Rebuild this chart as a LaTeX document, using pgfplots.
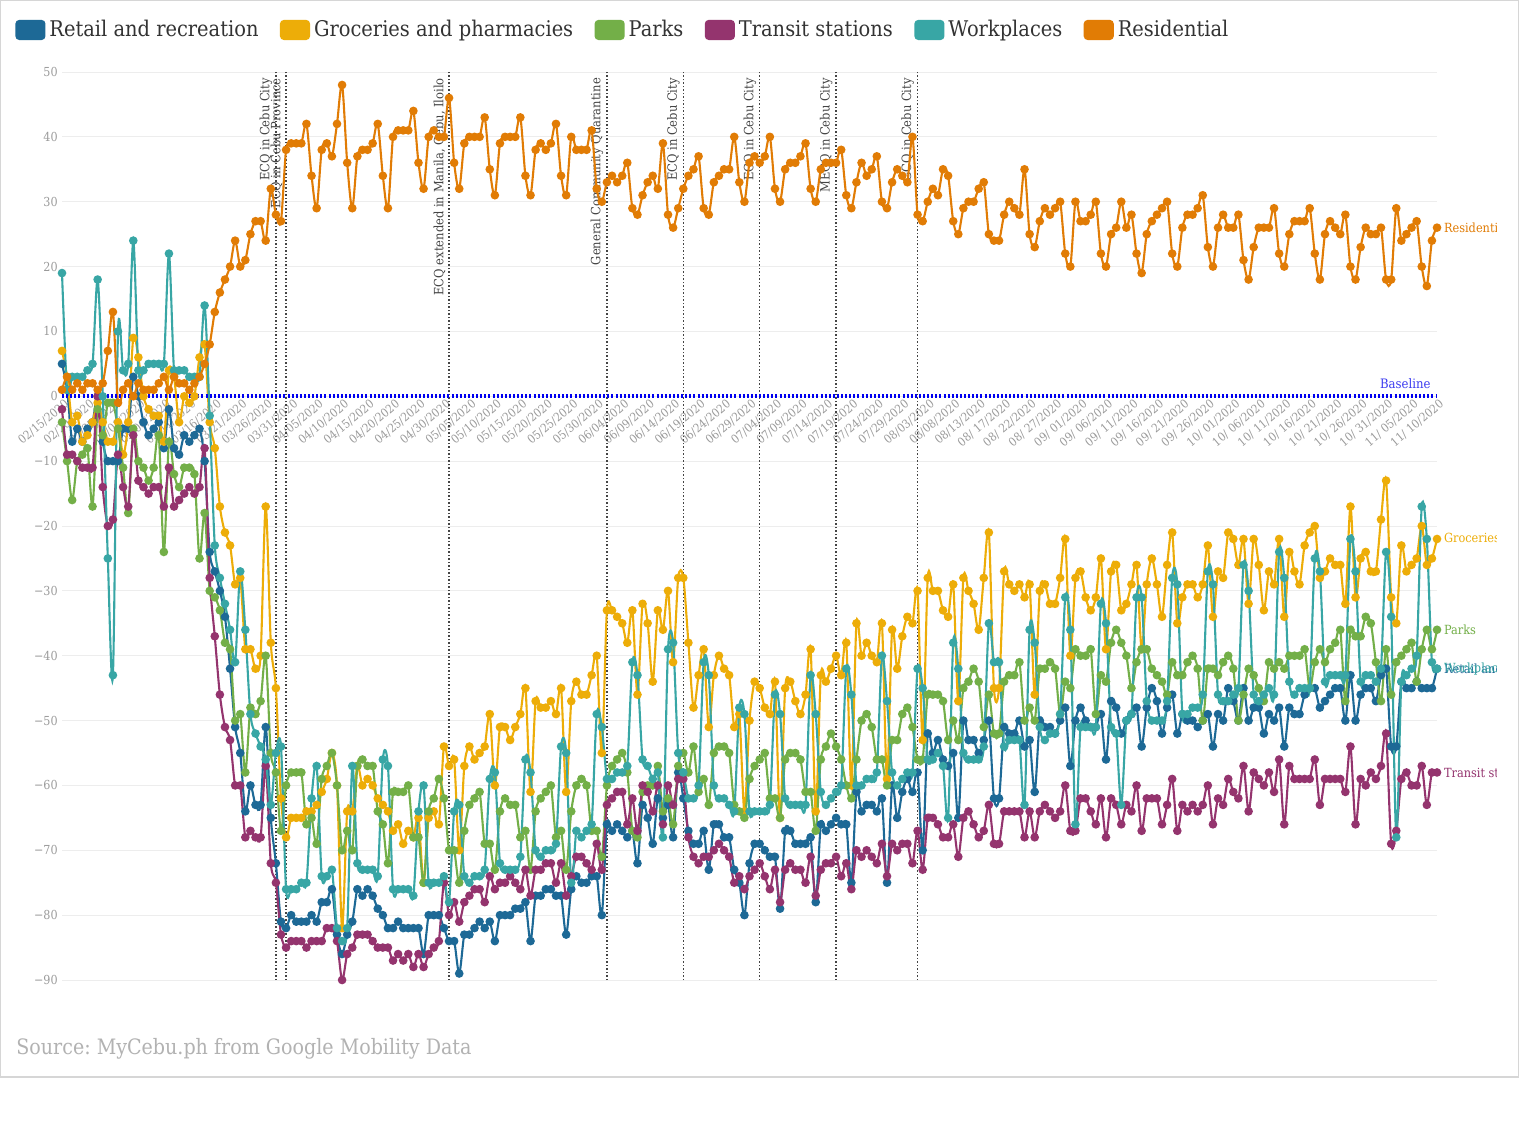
\documentclass[border=0pt]{standalone}
\usepackage{pgfplots}
\pgfplotsset{compat=1.18}
\usepackage{pgfplotstable}
\usepackage{fontspec}
\IfFontExistsTF{DejaVu Serif Condensed}{\setmainfont{DejaVu Serif Condensed}}{\setmainfont{DejaVu Serif}}
\frenchspacing

\definecolor{cRetail}{HTML}{1D6996}
\definecolor{cGroc}{HTML}{EDAD08}
\definecolor{cParks}{HTML}{73AF48}
\definecolor{cTransit}{HTML}{94346E}
\definecolor{cWork}{HTML}{38A6A5}
\definecolor{cRes}{HTML}{E17C05}
\definecolor{cBase}{HTML}{0000F0}
\definecolor{cBaseText}{HTML}{3C3CF0}
\definecolor{cGrid}{HTML}{EDEDED}
\definecolor{cTick}{HTML}{9A9A9A}
\definecolor{cEvent}{HTML}{444444}

% Google mobility, Cebu: % change from baseline, one row per day from 02/15/2020
\pgfplotstableread{
ret gro par tra wor res
5 7 -4 -2 19 1
1 3 -10 -9 1 3
-7 -4 -16 -9 3 1
-5 -3 -10 -10 3 2
-7 -7 -9 -11 3 1
-5 -6 -8 -11 4 2
-4 -4 -17 -11 5 2
0 -1 -2 0 18 1
-7 -4 -6 -14 0 2
-10 -7 -1 -20 -25 7
-10 -7 -1 -19 -43 13
-10 -4 -5 -9 10 -1
-5 -9 -11 -14 4 1
-5 -4 -18 -17 5 2
3 9 -5 -6 24 0
0 6 -10 -13 4 2
-4 0 -11 -14 4 1
-6 -2 -13 -15 5 1
-5 -3 -11 -14 5 1
-4 -3 -6 -14 5 2
-8 -7 -24 -17 5 3
-2 4 -7 -11 22 1
-8 3 -12 -17 4 3
-9 -4 -14 -16 4 2
-6 0 -11 -15 4 2
-7 -1 -11 -14 3 1
-6 0 -12 -15 3 2
-5 6 -25 -14 3 3
-10 8 -18 -8 14 5
-24 -4 -30 -28 -3 8
-27 -8 -31 -37 -23 13
-30 -17 -33 -46 -28 16
-34 -21 -38 -51 -32 18
-42 -23 -39 -53 -36 20
-51 -29 -50 -60 -41 24
-55 -28 -49 -60 -27 20
-64 -39 -58 -68 -36 21
-60 -39 -48 -67 -49 25
-63 -42 -49 -68 -52 27
-63 -40 -47 -68 -54 27
-51 -17 -40 -57 -56 24
-65 -38 -55 -72 -63 32
-72 -45 -58 -75 -55 28
-81 -62 -67 -83 -54 27
-82 -68 -60 -85 -76 38
-80 -65 -58 -84 -76 39
-81 -65 -58 -84 -76 39
-81 -65 -58 -84 -75 39
-81 -64 -66 -85 -75 42
-80 -64 -65 -84 -62 34
-81 -63 -69 -84 -57 29
-78 -61 -59 -84 -74 38
-78 -59 -57 -82 -74 39
-76 -55 -55 -82 -73 37
-83 -60 -60 -84 -82 42
-86 -82 -70 -90 -84 48
-83 -64 -67 -86 -82 36
-81 -64 -70 -85 -57 29
-76 -57 -57 -83 -72 37
-77 -60 -56 -83 -73 38
-76 -59 -57 -83 -73 38
-77 -60 -57 -84 -73 39
-79 -62 -64 -85 -74 42
-80 -63 -66 -85 -56 34
-82 -64 -72 -85 -57 29
-82 -67 -61 -87 -76 40
-81 -66 -61 -86 -76 41
-82 -69 -61 -87 -76 41
-82 -67 -60 -86 -76 41
-82 -68 -68 -88 -77 44
-82 -65 -68 -86 -64 36
-86 -75 -75 -88 -60 32
-80 -65 -64 -86 -75 40
-80 -64 -62 -85 -75 41
-80 -66 -59 -84 -75 40
-82 -54 -62 -75 -74 40
-84 -57 -70 -80 -78 46
-84 -56 -70 -78 -64 36
-89 -70 -75 -81 -63 32
-83 -57 -67 -78 -74 39
-83 -54 -63 -77 -75 40
-82 -56 -62 -76 -74 40
-81 -55 -61 -76 -74 40
-82 -54 -69 -78 -73 43
-81 -49 -69 -74 -59 35
-84 -60 -73 -76 -58 31
-80 -51 -64 -75 -72 39
-80 -51 -62 -75 -73 40
-80 -53 -63 -74 -73 40
-79 -51 -63 -75 -73 40
-79 -49 -68 -76 -71 43
-78 -45 -67 -73 -56 34
-84 -61 -73 -77 -58 31
-77 -47 -64 -73 -70 38
-77 -48 -62 -73 -71 39
-76 -48 -61 -72 -70 38
-76 -47 -60 -72 -70 39
-77 -49 -68 -75 -69 42
-77 -45 -67 -72 -54 34
-83 -61 -73 -77 -55 31
-76 -47 -64 -74 -75 40
-74 -44 -60 -71 -67 38
-75 -46 -59 -71 -68 38
-75 -46 -60 -72 -67 38
-74 -43 -67 -73 -66 41
-74 -40 -67 -69 -49 32
-80 -55 -71 -73 -51 30
-66 -33 -60 -63 -59 33
-67 -33 -57 -62 -59 34
-66 -34 -56 -61 -58 33
-67 -35 -55 -61 -58 34
-68 -38 -58 -66 -57 36
-67 -33 -67 -62 -41 29
-72 -46 -68 -67 -43 28
-63 -32 -61 -60 -56 31
-65 -35 -60 -61 -57 33
-69 -44 -60 -64 -59 34
-62 -33 -57 -60 -58 32
-65 -36 -64 -66 -68 39
-63 -30 -62 -60 -39 28
-68 -41 -66 -63 -38 26
-58 -28 -57 -59 -55 29
-62 -28 -55 -59 -58 32
-67 -38 -58 -68 -62 34
-69 -48 -54 -71 -62 35
-69 -43 -61 -72 -60 37
-67 -39 -59 -71 -41 29
-73 -51 -63 -71 -43 28
-66 -43 -55 -70 -60 33
-66 -40 -54 -69 -62 34
-68 -42 -54 -70 -62 35
-68 -43 -55 -71 -63 35
-73 -51 -63 -75 -64 40
-75 -49 -64 -74 -48 33
-80 -64 -65 -76 -49 30
-72 -50 -59 -74 -64 36
-69 -44 -57 -73 -64 37
-69 -45 -56 -72 -64 36
-70 -48 -55 -74 -64 37
-71 -49 -62 -76 -63 40
-71 -44 -62 -73 -46 32
-79 -65 -65 -78 -49 30
-67 -45 -56 -73 -62 35
-67 -44 -55 -72 -63 36
-69 -47 -55 -73 -63 36
-69 -49 -56 -73 -63 37
-69 -46 -61 -75 -63 39
-68 -39 -61 -71 -43 32
-78 -64 -67 -77 -49 30
-66 -43 -56 -73 -61 35
-67 -44 -54 -72 -63 36
-66 -42 -52 -72 -62 36
-65 -40 -54 -71 -61 36
-66 -43 -56 -74 -60 38
-66 -38 -60 -72 -42 31
-75 -60 -62 -76 -46 29
-61 -35 -56 -70 -60 33
-64 -40 -50 -71 -60 36
-63 -38 -49 -70 -59 34
-63 -40 -51 -71 -59 35
-64 -41 -56 -72 -58 37
-62 -35 -56 -69 -40 30
-75 -59 -60 -74 -47 29
-60 -36 -53 -69 -58 33
-65 -42 -53 -70 -60 35
-61 -37 -49 -69 -59 34
-59 -34 -48 -69 -58 33
-61 -35 -51 -72 -58 40
-58 -30 -56 -67 -42 28
-70 -53 -56 -73 -45 27
-52 -28 -46 -65 -56 30
-55 -30 -46 -65 -56 32
-53 -30 -46 -66 -55 31
-56 -33 -47 -68 -57 35
-57 -34 -53 -68 -65 34
-55 -29 -50 -66 -38 27
-65 -47 -53 -71 -42 25
-50 -28 -45 -65 -55 29
-53 -30 -44 -64 -56 30
-53 -32 -42 -66 -56 30
-55 -36 -44 -68 -56 32
-53 -28 -51 -67 -54 33
-50 -21 -46 -63 -35 25
-62 -45 -52 -69 -41 24
-62 -45 -52 -69 -41 24
-51 -27 -44 -64 -54 28
-52 -29 -43 -64 -53 30
-52 -30 -43 -64 -53 29
-50 -29 -41 -64 -53 28
-54 -31 -50 -68 -63 35
-53 -29 -48 -64 -36 25
-61 -46 -50 -68 -38 23
-50 -30 -42 -64 -51 27
-51 -29 -42 -63 -53 29
-51 -32 -41 -64 -52 28
-52 -32 -42 -65 -52 29
-50 -28 -49 -64 -49 30
-48 -22 -44 -60 -31 22
-57 -40 -45 -67 -36 20
-50 -28 -39 -67 -66 30
-48 -27 -40 -62 -51 27
-50 -31 -40 -62 -51 27
-51 -33 -39 -64 -51 28
-51 -31 -49 -66 -51 30
-49 -25 -43 -62 -32 22
-56 -39 -44 -68 -35 20
-47 -27 -38 -62 -51 25
-48 -26 -36 -63 -52 26
-52 -33 -38 -66 -63 30
-50 -32 -40 -63 -50 26
-49 -29 -45 -64 -49 28
-48 -26 -41 -60 -31 22
-54 -39 -39 -67 -31 19
-48 -29 -39 -62 -47 25
-45 -25 -42 -62 -50 27
-47 -29 -43 -62 -50 28
-52 -34 -44 -66 -50 29
-48 -26 -46 -63 -47 30
-46 -21 -41 -59 -28 22
-52 -35 -43 -67 -29 20
-49 -31 -43 -63 -49 26
-50 -29 -41 -64 -49 28
-50 -29 -40 -63 -48 28
-51 -31 -42 -64 -48 29
-50 -29 -50 -63 -46 31
-49 -23 -42 -60 -27 23
-54 -34 -42 -66 -29 20
-49 -27 -43 -62 -46 26
-50 -28 -41 -63 -47 28
-45 -21 -40 -59 -47 26
-47 -22 -42 -61 -46 26
-50 -26 -50 -62 -45 28
-45 -22 -46 -57 -26 21
-50 -32 -42 -64 -30 18
-48 -22 -43 -58 -46 23
-48 -26 -45 -59 -47 26
-52 -33 -47 -60 -46 26
-49 -27 -41 -58 -45 26
-50 -29 -42 -61 -46 29
-48 -22 -41 -56 -24 22
-54 -34 -42 -66 -28 20
-48 -24 -40 -57 -44 25
-49 -27 -40 -59 -46 27
-49 -29 -40 -59 -45 27
-46 -23 -39 -59 -45 27
-45 -21 -45 -59 -45 29
-45 -20 -41 -56 -25 22
-48 -28 -39 -63 -27 18
-47 -27 -41 -59 -44 25
-46 -25 -39 -59 -43 27
-45 -26 -38 -59 -43 26
-45 -26 -36 -59 -43 25
-50 -32 -47 -61 -43 28
-43 -17 -36 -54 -22 20
-50 -31 -37 -66 -27 18
-46 -25 -37 -59 -44 23
-45 -24 -34 -60 -43 26
-45 -27 -35 -58 -43 25
-47 -27 -41 -59 -44 25
-43 -19 -47 -57 -42 26
-42 -13 -39 -52 -24 18
-54 -31 -46 -69 -34 18
-54 -35 -41 -67 -68 29
-44 -23 -40 -59 -44 24
-45 -27 -39 -58 -43 25
-45 -26 -38 -60 -42 26
-44 -25 -44 -60 -40 27
-45 -20 -39 -57 -17 20
-45 -26 -36 -63 -22 17
-45 -25 -39 -58 -41 24
-42 -22 -36 -58 -42 26
}\mobility

\pgfplotsset{
  series/.style={#1, smooth, line width=1.05pt, mark=*, mark size=1.6pt,
    mark options={solid, fill=#1, draw=#1}},
}
\tikzset{
  endlabel/.style={pos=1, anchor=west, inner sep=0pt, xshift=3pt,
    font=\fontsize{6.3}{7}\selectfont, text=#1},
  eventline/.style={cEvent, densely dotted, line width=0.75pt},
  eventlabel/.style={rotate=90, anchor=south east, inner sep=1.6pt, text=cEvent,
    font=\fontsize{6.4}{8}\selectfont},
}

\begin{document}
\begin{tikzpicture}
\useasboundingbox (0,0) rectangle (759.5pt,565pt);
\fill[white] (0,0) rectangle (759.5pt,565pt);

\begin{axis}[
  at={(31pt,75pt)}, anchor=south west,
  scale only axis, width=687.5pt, height=454pt,
  xmin=0, xmax=270, ymin=-90, ymax=50,
  clip=false,
  axis x line=middle, axis y line=left,
  axis line style={draw=none},
  hide obscured x ticks=false, hide obscured y ticks=false,
  major tick length=0pt,
  ytick={-90,-80,...,50},
  yticklabels={−90,−80,−70,−60,−50,−40,−30,−20,−10,0,10,20,30,40,50},
  yticklabel style={font=\fontsize{6.2}{7}\selectfont, text=cTick, anchor=east, inner sep=1pt, xshift=-1pt},
  ymajorgrids, grid style={cGrid, line width=0.5pt},
  xtick={0,5,...,270},
  xticklabels={02/15/2020,02/20/2020,02/25/2020,03/01/2020,03/06/2020,03/11/2020,03/16/2020,03/21/2020,03/26/2020,03/31/2020,04/05/2020,04/10/2020,04/15/2020,04/20/2020,04/25/2020,04/30/2020,05/05/2020,05/10/2020,05/15/2020,05/20/2020,05/25/2020,05/30/2020,06/04/2020,06/09/2020,06/14/2020,06/19/2020,06/24/2020,06/29/2020,07/04/2020,07/09/2020,07/14/2020,07/19/2020,07/24/2020,07/29/2020,08/03/2020,08/08/2020,08/13/2020,08/ 17/2020,08/ 22/2020,08/ 27/2020,09/ 01/2020,09/ 06/2020,09/ 11/2020,09/ 16/2020,09/ 21/2020,09/ 26/2020,10/ 01/2020,10/ 06/2020,10/ 11/2020,10/ 16/2020,10/ 21/2020,10/ 26/2020,10/ 31/2020,11/ 05/2020,11/ 10/2020},
  xticklabel style={font=\fontsize{5.9}{7}\selectfont, text=cTick, rotate=40, anchor=east, inner sep=1pt, yshift=-4pt, xshift=1pt},
  legend columns=-1,
  legend cell align=left,
  legend image code/.code={\fill[rounded corners=1.5pt] (0pt,-4.5pt) rectangle (14pt,4.5pt);},
  legend style={at={(-0.0342,1.0463)}, anchor=west, draw=none, fill=none, inner sep=0pt,
    font=\fontsize{10.8}{12}\selectfont, text=black!80,
    /tikz/every even column/.append style={column sep=8.7pt}},
]

% quarantine milestones
\draw[eventline] (axis cs:42,-90) -- (axis cs:42,50);
\node[eventlabel] at (axis cs:42,49.6) {ECQ in Cebu City};
\draw[eventline] (axis cs:44,-90) -- (axis cs:44,50);
\node[eventlabel] at (axis cs:44,49.6) {ECQ in Cebu Province};
\draw[eventline] (axis cs:76,-90) -- (axis cs:76,50);
\node[eventlabel] at (axis cs:76,49.6) {ECQ extended in Manila, Cebu, Iloilo};
\draw[eventline] (axis cs:107,-90) -- (axis cs:107,50);
\node[eventlabel] at (axis cs:107,49.6) {General Community Quarantine};
\draw[eventline] (axis cs:122,-90) -- (axis cs:122,50);
\node[eventlabel] at (axis cs:122,49.6) {ECQ in Cebu City};
\draw[eventline] (axis cs:137,-90) -- (axis cs:137,50);
\node[eventlabel] at (axis cs:137,49.6) {ECQ in Cebu City};
\draw[eventline] (axis cs:152,-90) -- (axis cs:152,50);
\node[eventlabel] at (axis cs:152,49.6) {MECQ in Cebu City};
\draw[eventline] (axis cs:168,-90) -- (axis cs:168,50);
\node[eventlabel] at (axis cs:168,49.6) {GCQ in Cebu City};

\addplot[series=cRetail] table[x expr=\coordindex, y=ret] {\mobility}
  node[endlabel=cRetail] {Retail and recreation};
\addlegendentry{Retail and recreation}
\addplot[series=cGroc] table[x expr=\coordindex, y=gro] {\mobility}
  node[endlabel=cGroc] {Groceries and pharmacies};
\addlegendentry{Groceries and pharmacies}
\addplot[series=cParks] table[x expr=\coordindex, y=par] {\mobility}
  node[endlabel=cParks] {Parks};
\addlegendentry{Parks}
\addplot[series=cTransit] table[x expr=\coordindex, y=tra] {\mobility}
  node[endlabel=cTransit] {Transit stations};
\addlegendentry{Transit stations}
\addplot[series=cWork] table[x expr=\coordindex, y=wor] {\mobility}
  node[endlabel=cWork] {Workplaces};
\addlegendentry{Workplaces}
\addplot[series=cRes] table[x expr=\coordindex, y=res] {\mobility}
  node[endlabel=cRes] {Residential};
\addlegendentry{Residential}

% baseline
\draw[cBase, line width=2.2pt, dash pattern=on 1pt off 1.05pt] (axis cs:0,0) -- (axis cs:270,0);
\node[anchor=south east, inner sep=0pt, text=cBaseText, font=\fontsize{6.5}{8}\selectfont] at (axis cs:268.8,1.1) {Baseline};
\end{axis}

% series labels stop at the frame edge
\fill[white] (748.5pt,27pt) rectangle (800pt,564.4pt);
\draw[black!16, line width=0.6pt] (0.3pt,26.5pt) rectangle (759.2pt,564.7pt);
\node[anchor=west, inner sep=0pt, text=black!30, font=\fontsize{10.6}{12}\selectfont] at (8pt,40.5pt) {Source: MyCebu.ph from Google Mobility Data};
\end{tikzpicture}
\end{document}
